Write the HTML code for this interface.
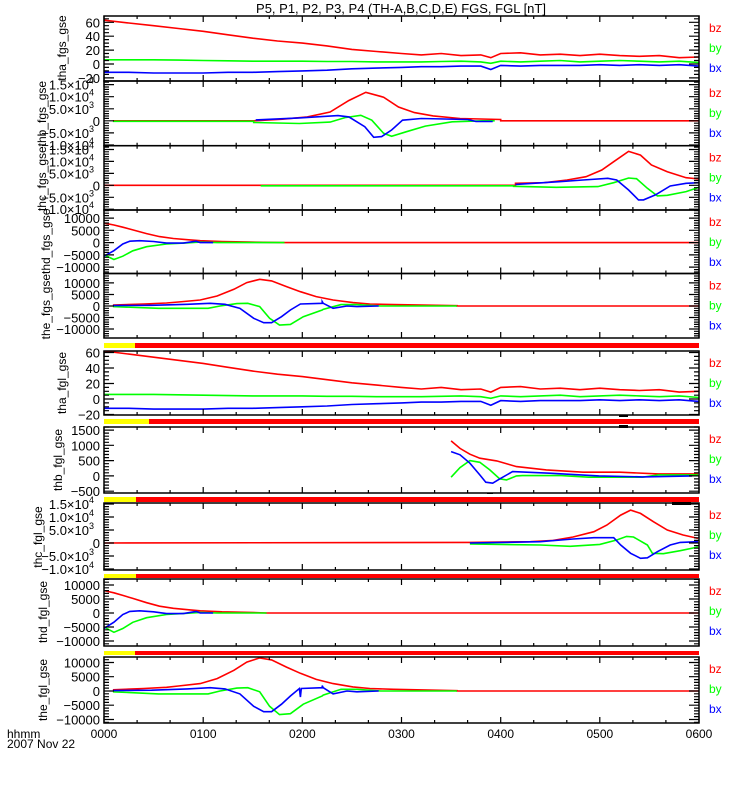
<!DOCTYPE html>
<html><head><meta charset="utf-8">
<style>
html,body{margin:0;padding:0;background:#fff;}
svg{display:block;font-family:"Liberation Sans",sans-serif;}
</style></head>
<body>
<svg id="chart" width="750" height="800" viewBox="0 0 750 800" xmlns="http://www.w3.org/2000/svg">
<rect x="0" y="0" width="750" height="800" fill="#fff"/>
<text x="401" y="13" font-size="13" text-anchor="middle">P5, P1, P2, P3, P4 (TH-A,B,C,D,E) FGS, FGL [nT]</text>
<text x="7" y="738" font-size="12">hhmm</text>
<text x="7" y="748" font-size="12">2007 Nov 22</text>
<g id="g"></g>
</svg>
<script>
// ---------- data ----------
const hourLabels = ['0000','0100','0200','0300','0400','0500','0600'];
const hourTicks = [0,1,2,3,4,5,6];
const smallTickVals = [60,40,20,0,-20];
const smallTickLabels = ['60','40','20','0','−20'];
const sciTickVals = [15000,10000,5000,0,-5000,-10000];
const sciTickMant = ['1.5×10','1.0×10','5.0×10','0','−5.0×10','−1.0×10'];
const sciTickExp = ['4','4','3','','3','4'];
const bigTickVals = [10000,5000,0,-5000,-10000];
const bigTickLabels = ['10000','5000','0','−5000','−10000'];
const thbTickVals = [1500,1000,500,0,-500];
const thbTickLabels = ['1500','1000','500','0','−500'];

// THA (P5) FGS / FGL
const thaT = [0,0.25,0.5,0.75,1,1.25,1.5,1.75,2,2.25,2.5,2.75,3,3.2,3.4,3.6,3.8,3.9,4.0,4.2,4.4,4.6,4.8,5.0,5.2,5.4,5.6,5.8,6];
const thaBz = [63,59,55,51,47,42,37,33,30,26,21,18,15,13,15,12,13,9,15,16,13,14,12,14,12,11,12,9,10];
const thaBy = [6,6,6,5.5,5,4.5,4,4,4,3.5,3.5,3,3,3,3.5,4,3,1,4,3,4,5,3,4,5,4,3,4,2];
const thaBx = [-12,-12,-13,-13,-13,-12,-12,-11,-10,-9,-7,-6,-5,-4,-4,-3,-3,-8,-2,-3,-2,-2,-2,-1,-2,-1,-2,-1,-3];
const thaLBz = [62,58,54,50,46,41,36,32,29,25,21,18,15,13,15,12,13,9,15,16,13,14,12,14,12,11,12,9,10];
const thaLBy = [6,6,6,5.5,5,4.5,4,4,4,3.5,3.5,3,3,3,3.5,4,3,1,4,3,4,5,3,4,5,4,3,4,2];
const thaLBx = [-12,-12,-13,-13,-13,-12,-12,-11,-10,-9,-7,-6,-5,-4,-4,-3,-3,-8,-2,-3,-2,-2,-2,-1,-2,-1,-2,-1,-3];

// THB (P1) FGS
const thbSBzT = [0.09,1.51,1.80,2.05,2.28,2.47,2.64,2.82,2.97,3.13,3.32,3.59,4.0,4.0,6];
const thbSBz  = [0,0,680,1630,3670,8430,11830,9790,5710,3400,2040,950,540,0,0];
const thbSBxT = [1.53,1.97,2.36,2.47,2.63,2.72,2.80,2.90,3.01,3.20,3.67,3.75,3.92];
const thbSBx  = [400,1220,2180,1630,-2450,-6800,-6530,-3800,270,950,540,-270,-270];
const thbSByT = [0.09,1.51,1.51,1.97,2.28,2.43,2.59,2.70,2.82,2.90,3.05,3.24,3.51,3.82,3.94];
const thbSBy  = [-200,-200,-680,-1090,-540,1360,2310,270,-5170,-6390,-4490,-2180,-410,0,0];

// THC (P2) FGS
const thcSBzT = [0,4.15,4.15,4.44,4.67,4.86,5.02,5.14,5.29,5.41,5.52,5.68,5.87,6.0];
const thcSBz  = [0,0,830,1110,2220,3610,6390,9870,14180,12650,8480,5700,3200,2640];
const thcSBxT = [4.15,4.59,4.83,5.08,5.17,5.29,5.39,5.44,5.56,5.71,5.87,6.0];
const thcSBx  = [400,1530,2220,2920,2220,-1950,-6120,-6120,-4030,-280,830,1110];
const thcSByT = [1.58,4.13,4.13,4.56,4.98,5.14,5.29,5.37,5.48,5.58,5.68,5.87,6.0];
const thcSBy  = [-200,-200,-420,-830,-560,1110,3060,2780,-1250,-4450,-4170,-2640,-830];

// THD (P3) FGS
const thdSBzT = [0,0.1,0.19,0.29,0.43,0.56,0.70,0.87,0.97,1.19,1.47,1.8,6];
const thdSBz  = [8000,7200,6300,5200,3660,2440,1665,1110,780,440,220,0,0];
const thdSBxT = [0,0.1,0.19,0.26,0.36,0.5,0.63,0.8,0.93,0.97,1.1];
const thdSBx  = [-5550,-3300,-555,555,780,440,-220,-220,555,0,0];
const thdSByT = [0,0.1,0.19,0.29,0.43,0.63,0.83,0.97,1.14,1.82];
const thdSBy  = [-5000,-6900,-5550,-3330,-1665,-555,-100,220,0,0];

// THE (P4) FGS
const theSBzT = [0.09,0.40,0.63,0.75,0.97,1.14,1.31,1.44,1.57,1.69,1.84,1.98,2.14,2.31,2.51,2.68,2.92,3.56,3.56,6];
const theSBz  = [435,870,1300,1740,2610,4350,7250,10150,11600,10900,8400,6200,4060,2610,1450,870,580,145,0,0];
const theSBxT = [0.09,0.48,0.84,1.07,1.22,1.37,1.51,1.61,1.69,1.79,1.88,1.98,2.20,2.20,2.21,2.31,2.45,2.55,2.77];
const theSBx  = [145,290,725,1160,725,-1015,-5365,-7250,-7250,-4640,-1740,870,1160,1880,1160,-1015,0,-290,0];
const theSByT = [0.09,0.55,1.05,1.17,1.34,1.45,1.57,1.67,1.77,1.88,2.01,2.20,2.21,2.39,2.55,2.79,3.56];
const theSBy  = [-290,-1015,-1015,0,1015,1160,-290,-5365,-8265,-7975,-4640,-1740,-1450,580,580,0,0];

// THB FGL
const thbLBzT = [3.50,3.59,3.69,3.79,3.96,4.16,4.46,4.83,5.20,5.59,5.99];
const thbLBz  = [1145,900,710,580,490,305,196,120,120,65,65];
const thbLBxT = [3.50,3.59,3.69,3.79,3.85,3.92,3.99,4.12,4.49,4.99,5.43,5.93];
const thbLBx  = [795,690,415,33,-207,-240,-98,140,87,0,-33,0];
const thbLByT = [3.50,3.59,3.69,3.79,3.89,3.99,4.06,4.16,4.22,4.61,4.89,5.43,5.59,5.99];
const thbLBy  = [-44,270,500,445,196,-98,-130,0,10,10,-44,-44,33,33];

// THC FGL
const thcLBzT = [0,3.69,4.30,4.53,4.73,4.94,5.07,5.21,5.31,5.41,5.54,5.68,5.84,5.99];
const thcLBz  = [0,256,512,1020,2300,4350,6900,10750,12670,11400,8200,5000,3070,1790];
const thcLBxT = [3.69,4.40,4.73,4.94,5.14,5.21,5.31,5.41,5.48,5.58,5.71,5.81,5.99];
const thcLBx  = [0,512,1540,2050,2050,-770,-3970,-5890,-5700,-3330,-770,256,512];
const thcLByT = [3.69,4.40,4.70,5.00,5.17,5.27,5.34,5.48,5.53,5.64,5.81,5.99];
const thcLBy  = [-384,-770,-1280,-512,1150,2560,2300,-770,-3970,-4100,-2940,-1540];

// THD FGL
const thdLBzT = [0,0.1,0.19,0.29,0.43,0.56,0.70,0.87,0.97,1.19,1.47,1.64,6];
const thdLBz  = [8000,7200,6300,5200,3660,2440,1665,1110,780,440,220,0,0];
const thdLBxT = [0,0.1,0.19,0.26,0.36,0.5,0.63,0.8,0.93,0.97,1.1];
const thdLBx  = [-5550,-3300,-555,555,780,440,-220,-220,555,0,0];
const thdLByT = [0,0.1,0.19,0.29,0.43,0.63,0.83,0.97,1.14,1.64];
const thdLBy  = [-5000,-6900,-5550,-3330,-1665,-555,-100,220,0,0];

// THE FGL
const theLBzT = [0.09,0.40,0.63,0.75,0.97,1.14,1.31,1.44,1.57,1.69,1.84,1.98,2.14,2.31,2.51,2.68,2.92,3.56,3.56,6];
const theLBz  = [435,870,1300,1740,2610,4350,7250,10150,11600,10900,8400,6200,4060,2610,1450,870,580,145,0,0];
const theLBxT = [0.09,0.48,0.84,1.07,1.22,1.37,1.51,1.61,1.69,1.79,1.88,1.97,1.98,1.99,2.20,2.20,2.21,2.31,2.45,2.55,2.77];
const theLBx  = [145,290,725,1160,725,-1015,-5365,-7250,-7250,-4640,-1740,870,-2100,870,1160,1880,1160,-1015,0,-290,0];
const theLByT = [0.09,0.55,1.05,1.17,1.34,1.45,1.57,1.67,1.77,1.88,2.01,2.20,2.21,2.39,2.55,2.79,3.56];
const theLBy  = [-290,-1015,-1015,0,1015,1160,-290,-5365,-8265,-7975,-4640,-1740,-1450,580,580,0,0];

// ---------- layout ----------
const X0 = 104, X1 = 699;
function xs(h){ return X0 + h*(X1-X0)/6; }
const NS = 'http://www.w3.org/2000/svg';
const G = document.getElementById('g');
function el(tag, attrs, parent){
  const e = document.createElementNS(NS, tag);
  for (const k in attrs) e.setAttribute(k, attrs[k]);
  (parent||G).appendChild(e);
  return e;
}
const panels = [
 {id:'tha-fgs', top:16, bot:81, min:-24.5, max:69, tv:smallTickVals, tl:smallTickLabels, minor:5, major:20,
  series:[[thaT,thaBz,'#ff0000','bz'],[thaT,thaBy,'#00ff00','by'],[thaT,thaBx,'#0000ff','bx']]},
 {id:'thb-fgs', top:81, bot:145.7, min:-10300, max:16500, tv:sciTickVals, sci:true, minor:1000, major:5000,
  series:[[thbSBzT,thbSBz,'#ff0000'],[thbSByT,thbSBy,'#00ff00'],[thbSBxT,thbSBx,'#0000ff']]},
 {id:'thc-fgs', top:145.7, bot:210, min:-10330, max:16570, tv:sciTickVals, sci:true, minor:1000, major:5000,
  series:[[thcSBzT,thcSBz,'#ff0000'],[thcSByT,thcSBy,'#00ff00'],[thcSBxT,thcSBx,'#0000ff']]},
 {id:'thd-fgs', top:210, bot:273.5, min:-12600, max:13300, tv:bigTickVals, tl:bigTickLabels, minor:1000, major:5000,
  series:[[thdSBzT,thdSBz,'#ff0000'],[thdSByT,thdSBy,'#00ff00'],[thdSBxT,thdSBx,'#0000ff']]},
 {id:'the-fgs', top:273.5, bot:338, min:-13900, max:14100, tv:bigTickVals, tl:bigTickLabels, minor:1000, major:5000,
  series:[[theSBzT,theSBz,'#ff0000'],[theSByT,theSBy,'#00ff00'],[theSBxT,theSBx,'#0000ff']]},
 {id:'tha-fgl', top:351, bot:415, min:-20.6, max:62, tv:smallTickVals, tl:smallTickLabels, minor:5, major:20,
  series:[[thaT,thaLBz,'#ff0000'],[thaT,thaLBy,'#00ff00'],[thaT,thaLBx,'#0000ff']]},
 {id:'thb-fgl', top:427, bot:493, min:-560, max:1600, tv:thbTickVals, tl:thbTickLabels, minor:100, major:500,
  series:[[thbLBzT,thbLBz,'#ff0000'],[thbLByT,thbLBy,'#00ff00'],[thbLBxT,thbLBx,'#0000ff']]},
 {id:'thc-fgl', top:503, bot:570, min:-10380, max:15400, tv:sciTickVals, sci:true, minor:1000, major:5000,
  series:[[thcLBzT,thcLBz,'#ff0000'],[thcLByT,thcLBy,'#00ff00'],[thcLBxT,thcLBx,'#0000ff']]},
 {id:'thd-fgl', top:579, bot:646, min:-11790, max:12140, tv:bigTickVals, tl:bigTickLabels, minor:1000, major:5000,
  series:[[thdLBzT,thdLBz,'#ff0000'],[thdLByT,thdLBy,'#00ff00'],[thdLBxT,thdLBx,'#0000ff']]},
 {id:'the-fgl', top:657, bot:723, min:-11230, max:11930, tv:bigTickVals, tl:bigTickLabels, minor:1000, major:5000,
  series:[[theLBzT,theLBz,'#ff0000'],[theLByT,theLBy,'#00ff00'],[theLBxT,theLBx,'#0000ff']]}
];
const yTitles = [
 {t:'tha_fgs_gse', x:66, y:48},
 {t:'thc_fgs_gsethb_fgs_gse', x:46, y:146},
 {t:'the_fgs_gsethd_fgs_gse', x:50, y:274},
 {t:'tha_fgl_gse', x:66, y:383},
 {t:'thb_fgl_gse', x:62, y:460},
 {t:'thc_fgl_gse', x:42, y:537},
 {t:'thd_fgl_gse', x:47, y:612},
 {t:'the_fgl_gse', x:47, y:690}
];
yTitles.forEach(o=>{
  const t = el('text', {x:o.x, y:o.y, 'font-size':12, 'text-anchor':'middle', transform:'rotate(-90 '+o.x+' '+o.y+')'});
  
  
  t.textContent = o.t;
});

panels.forEach((p, i)=>{
  const ys = v => p.top + (p.max - v)/(p.max - p.min)*(p.bot - p.top);
  const grp = el('g', {});
  
  
  const cp = el('clipPath', {id:'cp'+i}, grp);
  el('rect', {x:X0, y:p.top, width:X1-X0, height:p.bot-p.top}, cp);
  // series
  const sg = el('g', {'clip-path':'url(#cp'+i+')'}, grp);
  p.series.forEach(s=>{
    const pts = s[0].map((h,k)=> xs(h).toFixed(1)+','+ys(s[1][k]).toFixed(1)).join(' ');
    const pl = el('polyline', {points:pts, fill:'none', stroke:s[2], 'stroke-width':1.6, 'stroke-linejoin':'miter'}, sg);
    
    
  });
  // frame
  const fr = el('rect', {x:X0, y:p.top, width:X1-X0, height:p.bot-p.top, fill:'none', stroke:'#000', 'stroke-width':1.5}, grp);
  
  
  // y minor/major ticks
  let d = '';
  const start = Math.ceil(p.min/p.minor)*p.minor;
  for (let v = start; v <= p.max; v += p.minor){
    const y = ys(v).toFixed(1);
    const major = Math.abs(v/p.major - Math.round(v/p.major)) < 1e-6;
    const L = major ? 10 : 5;
    d += 'M'+X0+' '+y+'h'+L+'M'+X1+' '+y+'h'+(-L);
  }
  // x ticks
  for (let m = 0; m <= 360; m += 20){
    const x = xs(m/60).toFixed(1);
    const L = (m % 60 === 0) ? 6 : 3;
    d += 'M'+x+' '+p.top+'v'+L+'M'+x+' '+p.bot+'v'+(-L);
  }
  const tk = el('path', {d:d, stroke:'#000', 'stroke-width':1.2, fill:'none'}, grp);
  
  
  // tick labels
  p.tv.forEach((v,k)=>{
    const y = ys(v);
    if (y < p.top - 6 || y > p.bot + 6) return;
    const t = el('text', {x:100, y:(y+5).toFixed(1), 'font-size':13, 'text-anchor':'end'}, grp);
    
    
    if (p.sci){
      t.textContent = sciTickMant[k];
      if (sciTickExp[k]){
        t.setAttribute('x', 94);
        const sp = el('tspan', {dy:-6, 'font-size':9}, t);
        sp.textContent = sciTickExp[k];
      }
    } else {
      t.textContent = p.tl[k];
    }
  });
  // legend on right
  [['bz','#ff0000',12],['by','#00ff00',32],['bx','#0000ff',52]].forEach(l=>{
    const t = el('text', {x:709, y:p.top+l[2]+4, 'font-size':12, fill:l[1]}, grp);
    
    
    t.textContent = l[0];
  });
});

// state bars (yellow/red)
const bars = [[343,348,135],[419,424,149],[497,502,136],[574,578,136],[651,655,135]];
bars.forEach(b=>{
  const y1 = el('rect', {x:X0, y:b[0], width:b[2]-X0, height:b[1]-b[0], fill:'#ffff00'});
  
  
  const r1 = el('rect', {x:b[2], y:b[0], width:X1-b[2], height:b[1]-b[0], fill:'#ff0000'});
  
  
});
[[619,415.5,9,1.5],[619,425,9,3],[672,502,19,3],[487,492.5,6,1.5]].forEach(m=>{
  const r = el('rect', {x:m[0], y:m[1], width:m[2], height:m[3], fill:'#000'});
  
  
});

// x-axis labels
hourTicks.forEach((h,k)=>{
  const t = el('text', {x:xs(h), y:738, 'font-size':12, 'text-anchor':'middle'});
  
  
  t.textContent = hourLabels[k];
});
</script>
</body></html>
